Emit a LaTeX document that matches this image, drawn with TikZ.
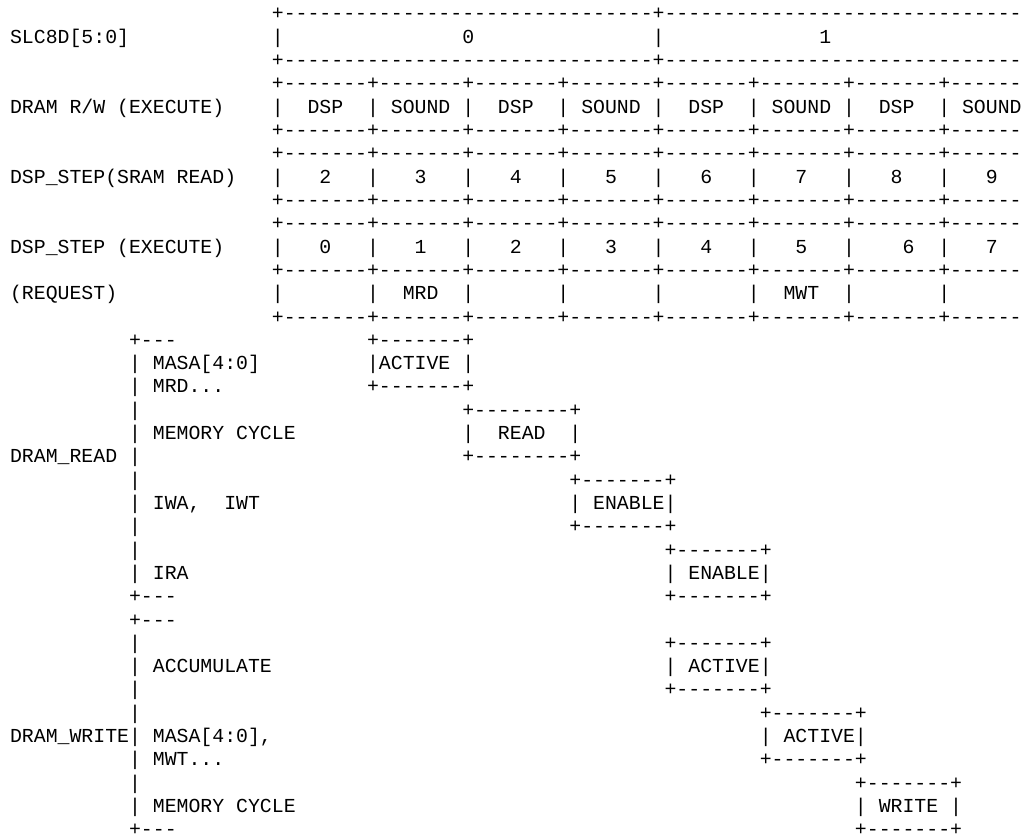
\documentclass[tikz,border=0pt]{standalone}
\usepackage{fontspec}
\setmonofont{Liberation Mono}

\newcommand{\slcrule}{+-------------------------------+------------------------------}
\newcommand{\cellrule}{+-------+-------+-------+-------+-------+-------+-------+------}
% one ascii box: name, column, first line, rule, middle
\newcommand{\asciibox}[5]{%
    \node[ascii] at (#2,#3)       (#1top) {#4};
    \node[ascii] at (#2,{#3+1})   (#1mid) {#5};
    \node[ascii] at (#2,{#3+2})   (#1bot) {#4};
}

\begin{document}
\begin{tikzpicture}[x=8.925pt, y=-17.4825pt,
    ascii/.style={anchor=base west, inner sep=0pt, outer sep=0pt, text depth=0pt,
                  font=\ttfamily\fontsize{14.875pt}{17.5pt}\selectfont}]
    \useasboundingbox (-7.54pt,15pt) rectangle (765.71pt,-612.75pt);

    % SLC8D
    \node[ascii] at (0,1)  (slcName)   {SLC8D[5:0]};
    \node[ascii] at (22,0) (slcTop)    {\slcrule};
    \node[ascii] at (22,2) (slcBottom) {\slcrule};
    \node[ascii] at (22,1) (slcBarA)   {|};
    \node[ascii] at (54,1) (slcBarB)   {|};
    \node[ascii] at (38,1) (slcZero)   {0};
    \node[ascii] at (68,1) (slcOne)    {1};

    % DRAM R/W
    \node[ascii] at (0,4)  (rwName)   {DRAM R/W (EXECUTE)};
    \node[ascii] at (22,3) (rwTop)    {\cellrule};
    \node[ascii] at (22,5) (rwBottom) {\cellrule};
    \foreach \i in {0,...,7}
        \node[ascii] at ({22+8*\i},4) (rwBar\i) {|};
    \foreach \i in {0,2,4,6}
        \node[ascii] at ({25+8*\i},4) (rwDsp\i) {DSP};
    \foreach \i in {1,3,5,7}
        \node[ascii] at ({24+8*\i},4) (rwSound\i) {SOUND};

    % DSP_STEP (SRAM READ)
    \node[ascii] at (0,7)  (readName)   {DSP\_STEP(SRAM READ)};
    \node[ascii] at (22,6) (readTop)    {\cellrule};
    \node[ascii] at (22,8) (readBottom) {\cellrule};
    \foreach \i in {0,...,7}
        \node[ascii] at ({22+8*\i},7) (readBar\i) {|};
    \foreach \d [count=\i from 0] in {2,...,9}
        \node[ascii] at ({26+8*\i},7) (readStep\d) {\d};

    % DSP_STEP (EXECUTE)
    \node[ascii] at (0,10)  (execName)   {DSP\_STEP (EXECUTE)};
    \node[ascii] at (22,9)  (execTop)    {\cellrule};
    \node[ascii] at (22,11) (execBottom) {\cellrule};
    \foreach \i in {0,...,7}
        \node[ascii] at ({22+8*\i},10) (execBar\i) {|};
    \foreach \d/\c in {0/26,1/34,2/42,3/50,4/58,5/66,6/75,7/82}
        \node[ascii] at (\c,10) (execStep\d) {\d};

    % REQUEST
    \node[ascii] at (0,12)  (reqName)   {(REQUEST)};
    \node[ascii] at (22,13) (reqBottom) {\cellrule};
    \foreach \i in {0,...,7}
        \node[ascii] at ({22+8*\i},12) (reqBar\i) {|};
    \node[ascii] at (33,12) (reqRead)  {MRD};
    \node[ascii] at (65,12) (reqWrite) {MWT};

    % DRAM_READ
    \node[ascii] at (0,19)  (dramReadName) {DRAM\_READ};
    \node[ascii] at (10,14) (readOpen)     {+---};
    \node[ascii] at (10,25) (readClose)    {+---};
    \foreach \r in {15,...,24}
        \node[ascii] at (10,\r) (readSide\r) {|};
    \node[ascii] at (12,15) (masaRead)  {MASA[4:0]};
    \node[ascii] at (12,16) (mrdName)   {MRD...};
    \node[ascii] at (12,18) (cycleRead) {MEMORY CYCLE};
    \node[ascii] at (12,21) (iwName)    {IWA,~~IWT};
    \node[ascii] at (12,24) (iraName)   {IRA};
    \asciibox{activeRead}{30}{14}{+-------+}{|ACTIVE~|}
    \asciibox{readCycle}{38}{17}{+--------+}{|~~READ~~|}
    \asciibox{enableIw}{47}{20}{+-------+}{|~ENABLE|}
    \asciibox{enableIra}{55}{23}{+-------+}{|~ENABLE|}

    % DRAM_WRITE
    \node[ascii] at (0,31)  (dramWriteName) {DRAM\_WRITE};
    \node[ascii] at (10,26) (writeOpen)     {+---};
    \node[ascii] at (10,35) (writeClose)    {+---};
    \foreach \r in {27,...,34}
        \node[ascii] at (10,\r) (writeSide\r) {|};
    \node[ascii] at (12,28) (accName)    {ACCUMULATE};
    \node[ascii] at (12,31) (masaWrite)  {MASA[4:0],};
    \node[ascii] at (12,32) (mwtName)    {MWT...};
    \node[ascii] at (12,34) (cycleWrite) {MEMORY CYCLE};
    \asciibox{activeAcc}{55}{27}{+-------+}{|~ACTIVE|}
    \asciibox{activeWrite}{63}{30}{+-------+}{|~ACTIVE|}
    \asciibox{writeCycle}{71}{33}{+-------+}{|~WRITE~|}
\end{tikzpicture}
\end{document}
